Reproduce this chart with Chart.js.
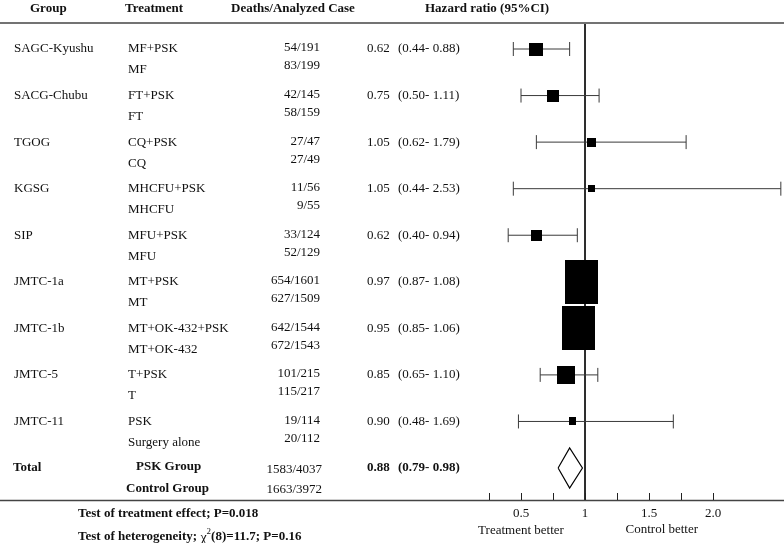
<!DOCTYPE html>
<html>
<head>
<meta charset="utf-8">
<script src="https://cdn.jsdelivr.net/npm/chart.js@4.4.0/dist/chart.umd.min.js"></script>
<style>
  body { margin: 0; background: #fff; }
  #wrap { width: 784px; height: 543px; }
</style>
</head>
<body>
<div id="wrap"><canvas id="forest" width="784" height="543"></canvas></div>
<script>
const groups = ["SAGC-Kyushu", "SACG-Chubu", "TGOG", "KGSG", "SIP", "JMTC-1a", "JMTC-1b", "JMTC-5", "JMTC-11"];
const treatArm = ["MF+PSK", "FT+PSK", "CQ+PSK", "MHCFU+PSK", "MFU+PSK", "MT+PSK", "MT+OK-432+PSK", "T+PSK", "PSK"];
const controlArm = ["MF", "FT", "CQ", "MHCFU", "MFU", "MT", "MT+OK-432", "T", "Surgery alone"];

const treatDeaths = [54, 42, 27, 11, 33, 654, 642, 101, 19];
const treatN = [191, 145, 47, 56, 124, 1601, 1544, 215, 114];
const ctrlDeaths = [83, 58, 27, 9, 52, 627, 672, 115, 20];
const ctrlN = [199, 159, 49, 55, 129, 1509, 1543, 217, 112];

const hr = [0.62, 0.75, 1.05, 1.05, 0.62, 0.97, 0.95, 0.85, 0.90];
const lo = [0.44, 0.50, 0.62, 0.44, 0.40, 0.87, 0.85, 0.65, 0.48];
const hi = [0.88, 1.11, 1.79, 2.53, 0.94, 1.08, 1.06, 1.10, 1.69];

// resultado combinado (Total)
const poolHR = 0.88;
const poolLo = 0.79;
const poolHi = 0.98;

const xTicks = [0.25, 0.5, 0.75, 1, 1.25, 1.5, 1.75, 2.0];
const xTickLabels = ["", "0.5", "", "1", "", "1.5", "", "2.0"];

const serif = '"Liberation Serif", "Times New Roman", serif';
const ink = "#111";

// escala: 1 -> 585px, 128px por unidade, área do gráfico na largura toda
const xMin = 1 - 585 / 128;
const xMax = 1 + 199 / 128;
const yMin = -0.537;
const yMax = 9.687;
const totalRow = groups.length;

// área da caixa proporcional ao peso (1/SE^2), SE tirado do IC;
// largura limitada, o resto vai para a altura (como no original)
const maxBoxW = 33;
const maxBoxH = 44;
const boxes = hr.map((h, i) => {
  const side = Math.max(7, 2.4 * 3.92 / Math.log(hi[i] / lo[i]));
  const w = Math.round(Math.min(side, maxBoxW));
  const hgt = Math.round(Math.min((side * side) / w, maxBoxH));
  const c = document.createElement("canvas");
  c.width = w;
  c.height = hgt;
  const g = c.getContext("2d");
  g.fillStyle = "#000";
  g.fillRect(0, 0, w, hgt);
  return c;
});

const sum = (a) => a.reduce((s, v) => s + v, 0);

const ciSets = hr.map((h, i) => ({
  type: "scatter",
  showLine: true,
  data: [{ x: lo[i], y: i }, { x: hi[i], y: i }],
  borderColor: "#3a3a3a",
  borderWidth: 1,
  pointStyle: "line",
  pointRotation: 90,
  pointRadius: 7,
  pointBorderColor: "#3a3a3a",
  pointBorderWidth: 1,
  order: 2,
}));

const dh = 0.43; // meia altura do losango, em linhas

const tablePlugin = {
  id: "tabela",
  afterDraw(chart) {
    const { ctx } = chart;
    const ys = chart.scales.y;
    const xs = chart.scales.x;

    ctx.save();
    ctx.fillStyle = ink;
    ctx.textBaseline = "middle";

    // cabeçalho
    ctx.font = `bold 13px ${serif}`;
    ctx.textAlign = "left";
    ctx.fillText("Group", 30, 9);
    ctx.fillText("Treatment", 125, 9);
    ctx.fillText("Deaths/Analyzed Case", 231, 9);
    ctx.fillText("Hazard ratio (95%CI)", 425, 9);

    ctx.strokeStyle = "#444";
    ctx.lineWidth = 1.6;
    ctx.beginPath();
    ctx.moveTo(0, 23);
    ctx.lineTo(784, 23);
    ctx.stroke();

    // linhas dos estudos
    groups.forEach((g, i) => {
      const y = ys.getPixelForValue(i);
      ctx.font = `13px ${serif}`;
      ctx.textAlign = "left";
      ctx.fillText(g, 14, y);
      ctx.fillText(treatArm[i], 128, y);
      ctx.fillText(controlArm[i], 128, y + 21);
      ctx.textAlign = "right";
      ctx.fillText(`${treatDeaths[i]}/${treatN[i]}`, 320, y - 1);
      ctx.fillText(`${ctrlDeaths[i]}/${ctrlN[i]}`, 320, y + 17);
      ctx.textAlign = "left";
      ctx.fillText(hr[i].toFixed(2), 367, y);
      ctx.fillText(`(${lo[i].toFixed(2)}- ${hi[i].toFixed(2)})`, 398, y);
    });

    // total
    const yt = ys.getPixelForValue(totalRow);
    ctx.font = `bold 13px ${serif}`;
    ctx.fillText("Total", 13, yt);
    ctx.fillText("PSK Group", 136, yt - 1);
    ctx.fillText("Control Group", 126, yt + 21);
    ctx.fillText(poolHR.toFixed(2), 367, yt);
    ctx.fillText(`(${poolLo.toFixed(2)}- ${poolHi.toFixed(2)})`, 398, yt);
    ctx.font = `13px ${serif}`;
    ctx.textAlign = "right";
    ctx.fillText(`${sum(treatDeaths)}/${sum(treatN)}`, 322, yt + 2);
    ctx.fillText(`${sum(ctrlDeaths)}/${sum(ctrlN)}`, 322, yt + 22);

    // eixo inferior, largura toda
    const axisY = chart.chartArea.bottom;
    ctx.strokeStyle = "#444";
    ctx.lineWidth = 1.4;
    ctx.beginPath();
    ctx.moveTo(0, axisY + 0.5);
    ctx.lineTo(784, axisY + 0.5);
    ctx.stroke();

    ctx.strokeStyle = "#222";
    ctx.lineWidth = 1;
    xTicks.forEach((v) => {
      const x = Math.round(xs.getPixelForValue(v)) + 0.5;
      ctx.beginPath();
      ctx.moveTo(x, axisY);
      ctx.lineTo(x, axisY - 7);
      ctx.stroke();
    });

    ctx.font = `13px ${serif}`;
    ctx.textAlign = "center";
    ctx.fillText("Treatment better", xs.getPixelForValue(0.5), 531);
    ctx.fillText("Control better", xs.getPixelForValue(1.6), 530);

    // testes
    ctx.textAlign = "left";
    ctx.font = `bold 13px ${serif}`;
    ctx.fillText("Test of treatment effect; P=0.018", 78, 514);

    let x = 78;
    const part1 = "Test of heterogeneity; ";
    ctx.fillText(part1, x, 537);
    x += ctx.measureText(part1).width;
    ctx.font = `14px ${serif}`;
    ctx.fillText("\u03c7", x, 538);
    x += ctx.measureText("\u03c7").width;
    ctx.font = `9px ${serif}`;
    ctx.fillText("2", x, 532);
    x += ctx.measureText("2").width;
    ctx.font = `bold 13px ${serif}`;
    ctx.fillText("(8)=11.7; P=0.16", x, 537);

    ctx.restore();
  },
};

new Chart(document.getElementById("forest"), {
  type: "scatter",
  plugins: [tablePlugin],
  data: {
    datasets: [
      // caixas
      {
        type: "scatter",
        data: hr.map((h, i) => ({ x: h, y: i })),
        pointStyle: boxes,
        pointRadius: 5,
        order: 0,
      },
      // losango do total
      {
        type: "scatter",
        showLine: true,
        data: [
          { x: poolLo, y: totalRow },
          { x: poolHR, y: totalRow - dh },
          { x: poolHi, y: totalRow },
          { x: poolHR, y: totalRow + dh },
          { x: poolLo, y: totalRow },
        ],
        borderColor: "#000",
        borderWidth: 1.2,
        pointRadius: 0,
        order: 0,
      },
      ...ciSets,
      // linha de referência HR = 1
      {
        type: "scatter",
        showLine: true,
        data: [{ x: 1, y: yMin }, { x: 1, y: yMax }],
        borderColor: "#111",
        borderWidth: 1,
        pointRadius: 0,
        order: 3,
      },
    ],
  },
  options: {
    responsive: false,
    animation: false,
    layout: { autoPadding: false, padding: { top: 24, left: 0, right: 0, bottom: 0 } },
    plugins: {
      legend: { display: false },
      tooltip: { enabled: false },
    },
    scales: {
      x: {
        type: "linear",
        min: xMin,
        max: xMax,
        afterBuildTicks: (axis) => {
          axis.ticks = xTicks.map((v) => ({ value: v }));
        },
        afterFit: (axis) => {
          axis.height = 43;
        },
        grid: { display: false, drawTicks: false },
        border: { display: false },
        ticks: {
          color: ink,
          padding: 6,
          autoSkip: false,
          maxRotation: 0,
          font: { family: serif, size: 13 },
          callback: (v, i) => xTickLabels[i],
        },
      },
      y: {
        type: "linear",
        reverse: true,
        min: yMin,
        max: yMax,
        display: false,
      },
    },
  },
});
</script>
</body>
</html>
